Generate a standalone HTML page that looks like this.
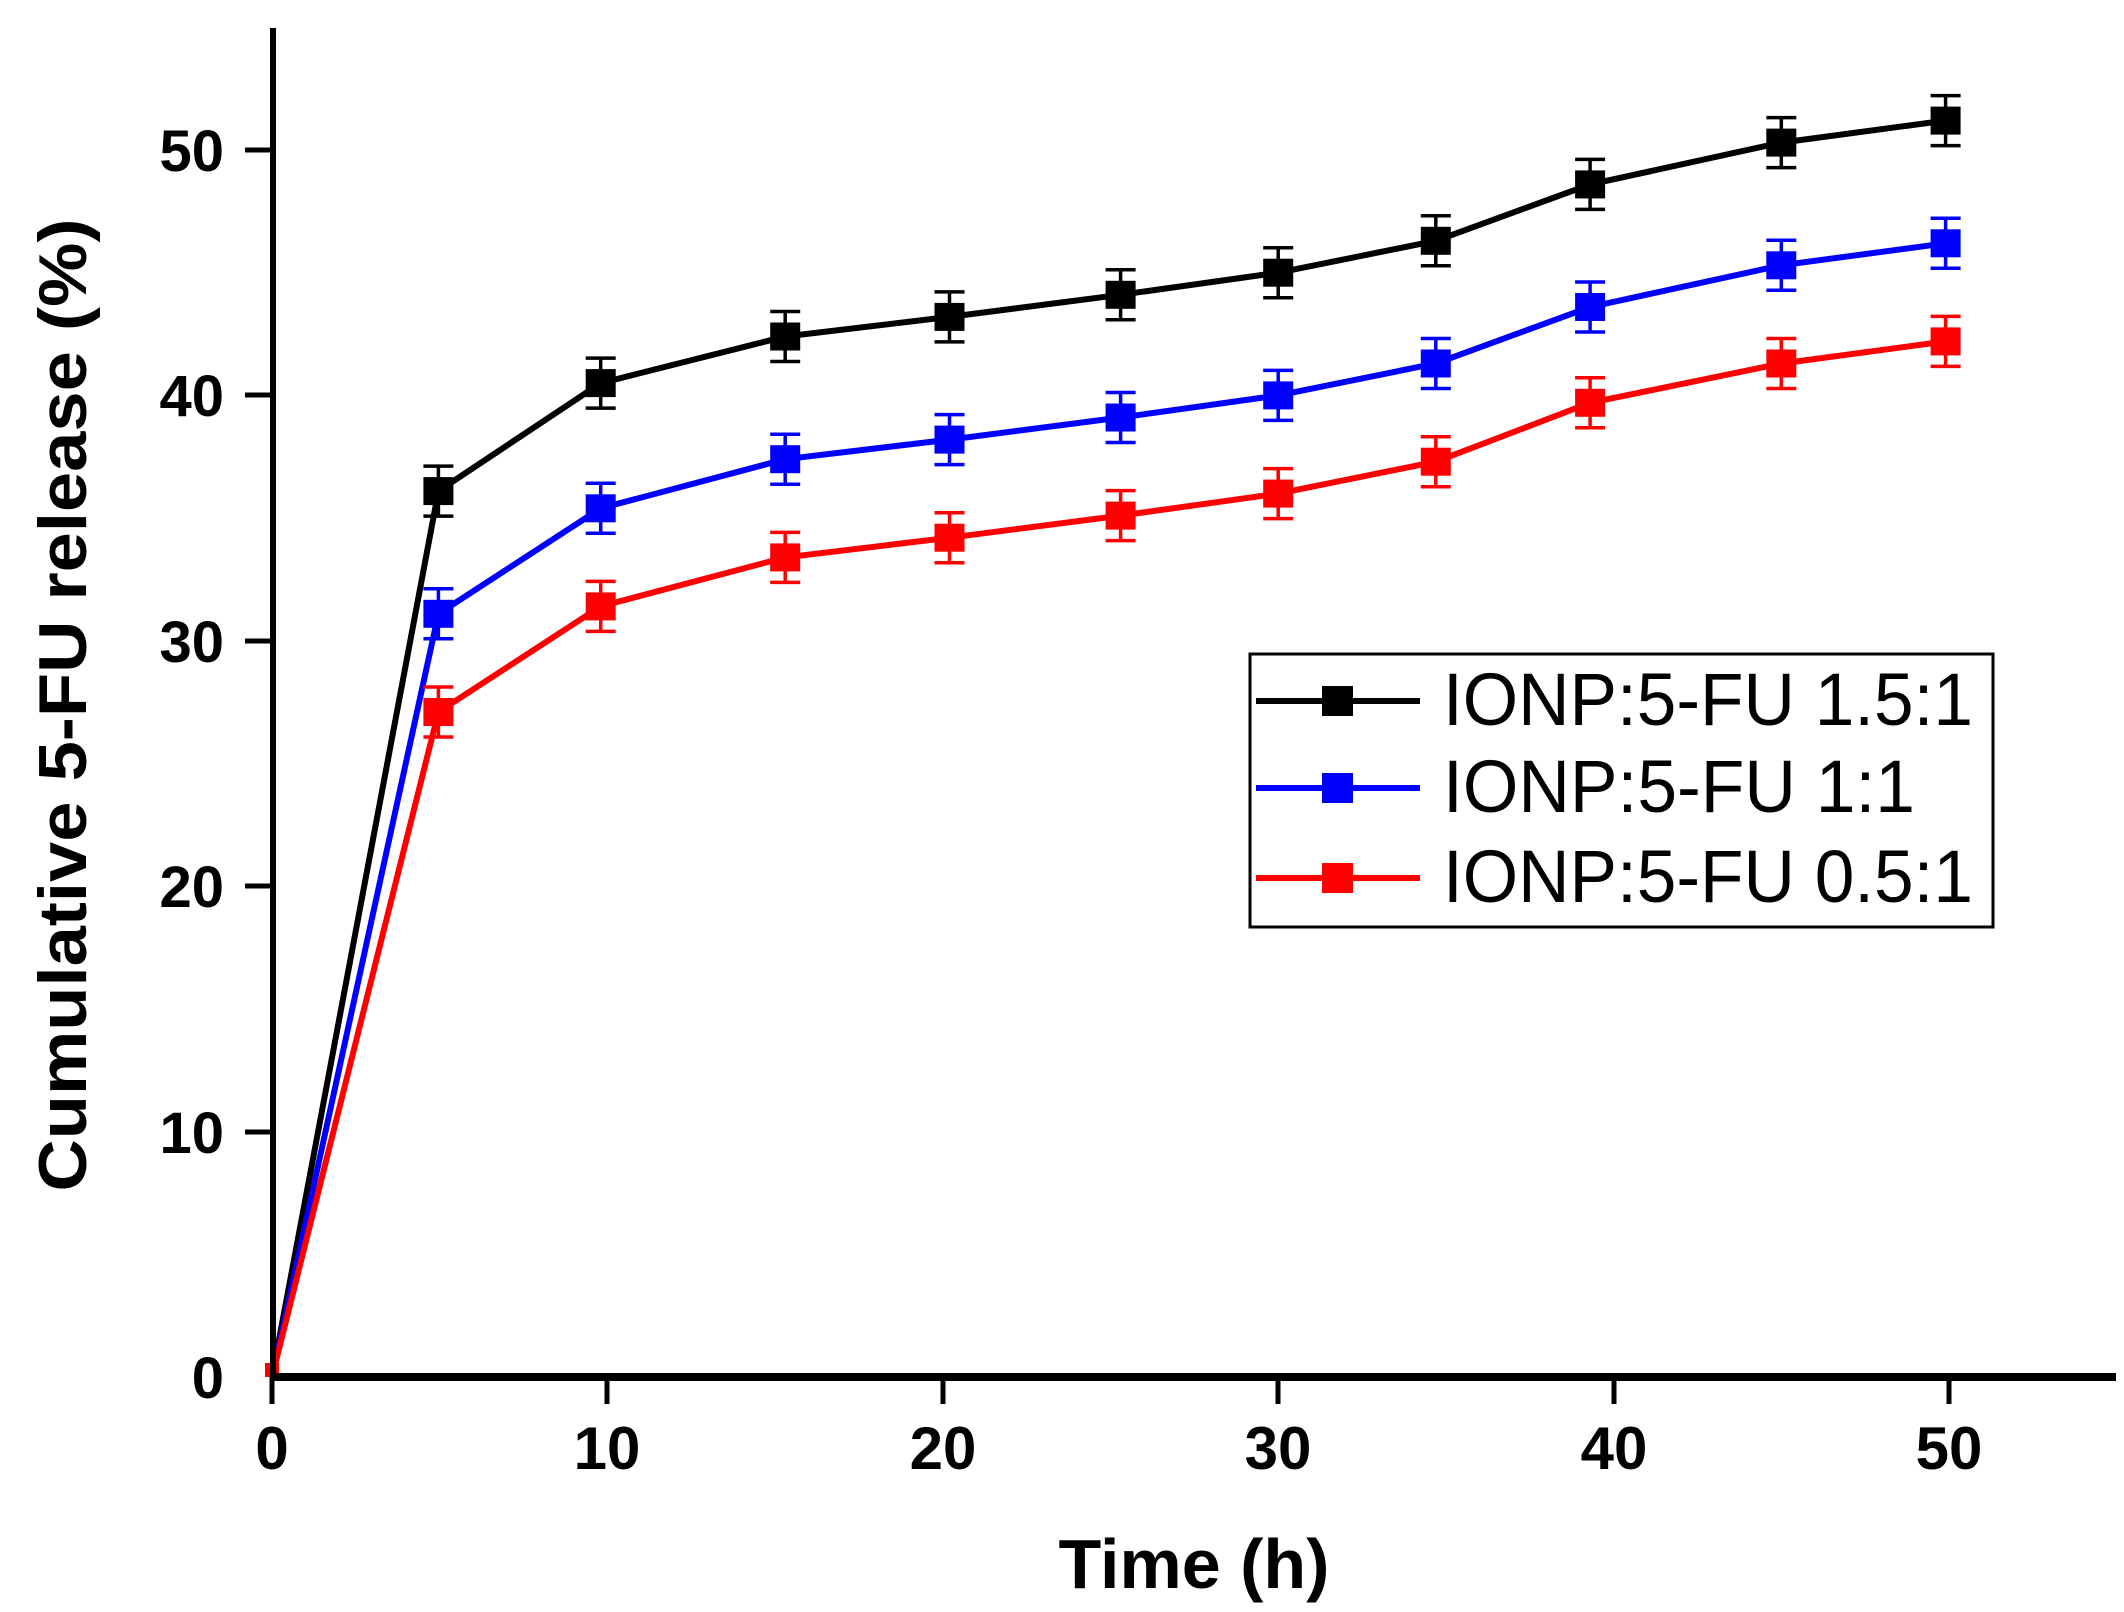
<!DOCTYPE html>
<html><head><meta charset="utf-8"><style>body{margin:0;background:#fff}svg{display:block}</style></head><body>
<svg width="2124" height="1612" viewBox="0 0 2124 1612" xmlns="http://www.w3.org/2000/svg" xmlns:xlink="http://www.w3.org/1999/xlink" font-family="Liberation Sans, Arial, sans-serif">
<defs>
<g id="mk"><path d="M0 -25V25M-15 -25H15M-15 25H15" stroke="#000" stroke-width="3.5" fill="none"/><rect x="-15" y="-14" width="30" height="28" fill="#000"/></g>
<g id="mb"><path d="M0 -25V25M-15 -25H15M-15 25H15" stroke="#00f" stroke-width="3.5" fill="none"/><rect x="-15" y="-14" width="30" height="28" fill="#00f"/></g>
<g id="mr"><path d="M0 -25V25M-15 -25H15M-15 25H15" stroke="#f00" stroke-width="3.5" fill="none"/><rect x="-15" y="-14" width="30" height="28" fill="#f00"/></g>
</defs>
<rect width="2124" height="1612" fill="#fff"/>
<polyline fill="none" stroke="#000" stroke-width="6" points="272,1377 438.4,491.1 600.7,383.1 785.2,336.5 949.5,316.9 1120.6,294.8 1278.2,272.7 1435.8,240.8 1590.1,184.4 1781.3,142.6 1945.6,120.6"/>
<polyline fill="none" stroke="#00f" stroke-width="6" points="272,1377 438.4,613.8 600.7,508.3 785.2,459.2 949.5,439.6 1120.6,417.5 1278.2,395.4 1435.8,363.5 1590.1,307.0 1781.3,265.3 1945.6,243.3"/>
<polyline fill="none" stroke="#f00" stroke-width="6" points="272,1377 438.4,712.0 600.7,606.4 785.2,557.4 949.5,537.7 1120.6,515.6 1278.2,493.6 1435.8,461.7 1590.1,402.8 1781.3,363.5 1945.6,341.4"/>
<rect x="265" y="1363" width="14" height="14" fill="#f00"/>
<use xlink:href="#mk" x="438.4" y="491.1"/><use xlink:href="#mk" x="600.7" y="383.1"/><use xlink:href="#mk" x="785.2" y="336.5"/><use xlink:href="#mk" x="949.5" y="316.9"/><use xlink:href="#mk" x="1120.6" y="294.8"/><use xlink:href="#mk" x="1278.2" y="272.7"/><use xlink:href="#mk" x="1435.8" y="240.8"/><use xlink:href="#mk" x="1590.1" y="184.4"/><use xlink:href="#mk" x="1781.3" y="142.6"/><use xlink:href="#mk" x="1945.6" y="120.6"/>
<use xlink:href="#mb" x="438.4" y="613.8"/><use xlink:href="#mb" x="600.7" y="508.3"/><use xlink:href="#mb" x="785.2" y="459.2"/><use xlink:href="#mb" x="949.5" y="439.6"/><use xlink:href="#mb" x="1120.6" y="417.5"/><use xlink:href="#mb" x="1278.2" y="395.4"/><use xlink:href="#mb" x="1435.8" y="363.5"/><use xlink:href="#mb" x="1590.1" y="307.0"/><use xlink:href="#mb" x="1781.3" y="265.3"/><use xlink:href="#mb" x="1945.6" y="243.3"/>
<use xlink:href="#mr" x="438.4" y="712.0"/><use xlink:href="#mr" x="600.7" y="606.4"/><use xlink:href="#mr" x="785.2" y="557.4"/><use xlink:href="#mr" x="949.5" y="537.7"/><use xlink:href="#mr" x="1120.6" y="515.6"/><use xlink:href="#mr" x="1278.2" y="493.6"/><use xlink:href="#mr" x="1435.8" y="461.7"/><use xlink:href="#mr" x="1590.1" y="402.8"/><use xlink:href="#mr" x="1781.3" y="363.5"/><use xlink:href="#mr" x="1945.6" y="341.4"/>
<line x1="273" y1="28" x2="273" y2="1381" stroke="#000" stroke-width="6"/>
<line x1="270" y1="1377" x2="2116" y2="1377" stroke="#000" stroke-width="8"/>
<g stroke="#000" stroke-width="5">
<line x1="272" y1="1377" x2="272" y2="1404"/><line x1="607" y1="1377" x2="607" y2="1404"/><line x1="943" y1="1377" x2="943" y2="1404"/><line x1="1278" y1="1377" x2="1278" y2="1404"/><line x1="1614" y1="1377" x2="1614" y2="1404"/><line x1="1949" y1="1377" x2="1949" y2="1404"/>
<line x1="245" y1="150" x2="273" y2="150"/><line x1="245" y1="395" x2="273" y2="395"/><line x1="245" y1="641" x2="273" y2="641"/><line x1="245" y1="886" x2="273" y2="886"/><line x1="245" y1="1132" x2="273" y2="1132"/>
</g>
<g font-weight="bold" font-size="60" text-anchor="middle">
<text x="272" y="1469">0</text><text x="607" y="1469">10</text><text x="943" y="1469">20</text><text x="1278" y="1469">30</text><text x="1614" y="1469">40</text><text x="1949" y="1469">50</text>
</g>
<g font-weight="bold" font-size="58" text-anchor="end">
<text x="224" y="171">50</text><text x="224" y="416">40</text><text x="224" y="662">30</text><text x="224" y="907">20</text><text x="224" y="1153">10</text><text x="224" y="1398">0</text>
</g>
<text x="1194" y="1588" font-weight="bold" font-size="70" text-anchor="middle">Time (h)</text>
<text transform="translate(86,705) rotate(-90)" font-weight="bold" font-size="68" text-anchor="middle" textLength="973" lengthAdjust="spacingAndGlyphs">Cumulative 5-FU release (%)</text>
<rect x="1250" y="654" width="743" height="273" fill="#fff" stroke="#000" stroke-width="3"/>
<g stroke-width="6">
<line x1="1256" y1="701" x2="1420" y2="701" stroke="#000"/><rect x="1322" y="686" width="31" height="30" fill="#000"/>
<line x1="1256" y1="788" x2="1420" y2="788" stroke="#00f"/><rect x="1322" y="773" width="31" height="30" fill="#00f"/>
<line x1="1256" y1="878" x2="1420" y2="878" stroke="#f00"/><rect x="1322" y="863" width="31" height="30" fill="#f00"/>
</g>
<g font-size="74">
<text x="1443" y="725" textLength="530" lengthAdjust="spacingAndGlyphs">IONP:5-FU 1.5:1</text>
<text x="1443" y="812" textLength="472" lengthAdjust="spacingAndGlyphs">IONP:5-FU 1:1</text>
<text x="1443" y="902" textLength="530" lengthAdjust="spacingAndGlyphs">IONP:5-FU 0.5:1</text>
</g>
</svg>
</body></html>
